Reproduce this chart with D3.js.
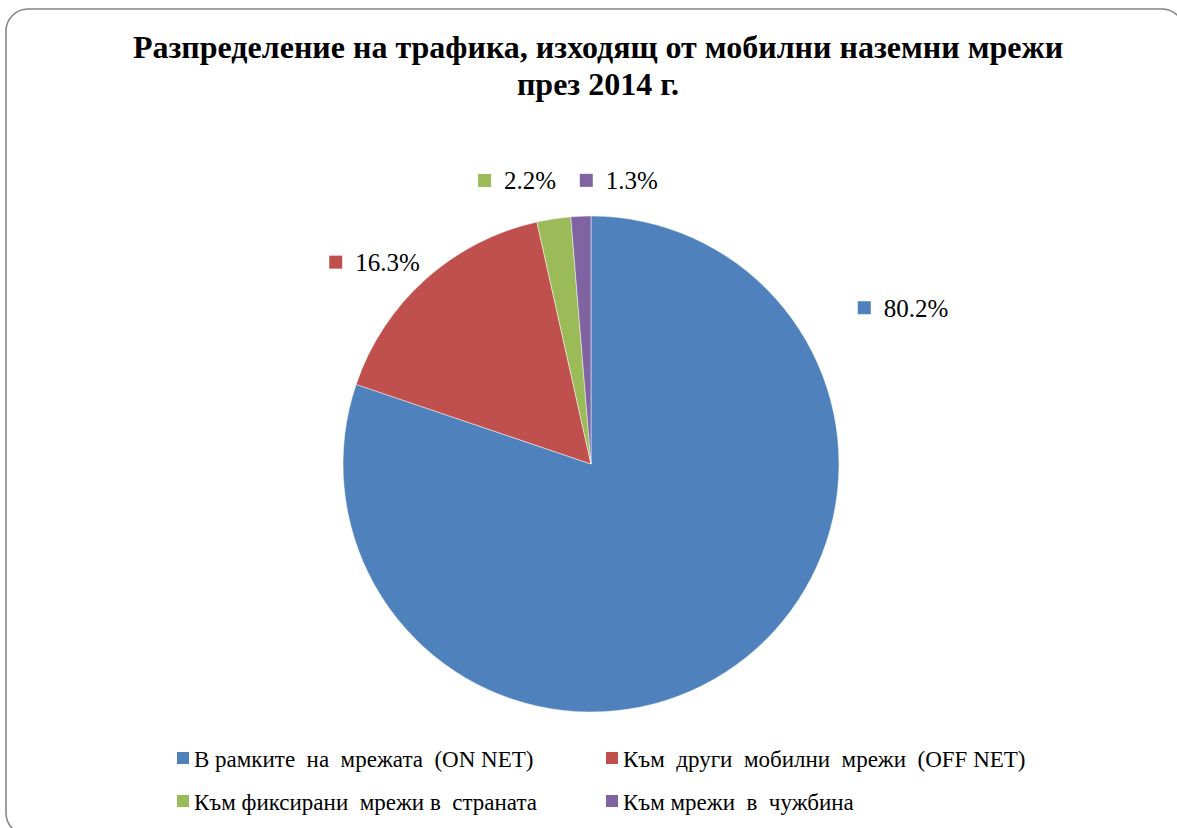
<!DOCTYPE html>
<html>
<head>
<meta charset="utf-8">
<script src="https://cdn.jsdelivr.net/npm/d3@7"></script>
<style>
  html, body { margin: 0; padding: 0; background: #fff; }
  svg { display: block; }
</style>
</head>
<body>
<svg id="chart" width="1177" height="828"></svg>
<script>
// data
const categories = [
  "В рамките  на  мрежата  (ON NET)",
  "Към  други  мобилни  мрежи  (OFF NET)",
  "Към фиксирани  мрежи в  страната",
  "Към мрежи  в  чужбина"
];
const shares = [80.2, 16.3, 2.2, 1.3];
const colors = ["#4F81BD", "#C0504D", "#9BBB59", "#8064A2"];
const titleLines = [
  "Разпределение на трафика, изходящ от мобилни наземни мрежи",
  "през 2014 г."
];

// layout: where Excel's "best fit" put each data label (angle in degrees, distance from centre)
const labelSpots = [
  { angle: 63.4, dist: 349 },
  { angle: 313, dist: 296 },
  { angle: -14.6, dist: 293 },
  { angle: 5.6, dist: 285 }
];

const width = 1177, height = 828;
const cx = 591, cy = 464, radius = 248;
const serif = "'Liberation Serif', 'Times New Roman', serif";

const svg = d3.select("#chart");

// outer rounded frame
svg.append("rect")
  .attr("x", 6).attr("y", 9)
  .attr("width", 1178).attr("height", 826)
  .attr("rx", 22).attr("ry", 22)
  .attr("fill", "none")
  .attr("stroke", "#878787")
  .attr("stroke-width", 1.6);

// title
svg.append("text")
  .attr("x", 598).attr("y", 58)
  .attr("text-anchor", "middle")
  .attr("font-family", serif)
  .attr("font-weight", "bold")
  .attr("font-size", 32)
  .selectAll("tspan")
  .data(titleLines)
  .join("tspan")
  .attr("x", 598)
  .attr("dy", (d, i) => i === 0 ? 0 : 37)
  .text(d => d);

// pie
const pie = d3.pie().sort(null).value(d => d);
const arc = d3.arc().innerRadius(0).outerRadius(radius);
const arcs = pie(shares);

const g = svg.append("g").attr("transform", `translate(${cx},${cy})`);
g.selectAll("path")
  .data(arcs)
  .join("path")
  .attr("d", arc)
  .attr("fill", (d, i) => colors[i])
  .attr("stroke", "#ffffff")
  .attr("stroke-opacity", 0.6)
  .attr("stroke-width", 0.8);

// data labels: coloured key + percentage
const fmt = d3.format(".1f");
const labels = g.selectAll("g.lbl")
  .data(arcs)
  .join("g")
  .attr("class", "lbl");

labels.each(function (d, i) {
  const grp = d3.select(this);
  const t = grp.append("text")
    .attr("font-family", serif)
    .attr("font-size", 25)
    .attr("fill", "#000")
    .text(fmt(d.data) + "%");
  const tw = t.node().getComputedTextLength();
  const sq = 13, gap = 13;
  const total = sq + gap + tw;
  const [px, py] = d3.pointRadial(labelSpots[i].angle * Math.PI / 180, labelSpots[i].dist);
  grp.attr("transform", `translate(${px - total / 2},${py})`);
  grp.insert("rect", "text")
    .attr("x", 0).attr("y", -6.5)
    .attr("width", sq).attr("height", sq)
    .attr("fill", colors[i]);
  t.attr("x", sq + gap).attr("y", 9);
});

// legend
const legendCols = [177, 606];
const legendRows = [758, 801];
const legend = svg.append("g")
  .selectAll("g")
  .data(categories)
  .join("g")
  .attr("transform", (d, i) => `translate(${legendCols[i % 2]},${legendRows[Math.floor(i / 2)]})`);

legend.append("rect")
  .attr("x", 0).attr("y", -6)
  .attr("width", 12).attr("height", 12)
  .attr("fill", (d, i) => colors[i]);

legend.append("text")
  .attr("x", 17).attr("y", 9)
  .attr("font-family", serif)
  .attr("font-size", 23)
  .attr("fill", "#000")
  .style("white-space", "pre")
  .text(d => d);
</script>
</body>
</html>
